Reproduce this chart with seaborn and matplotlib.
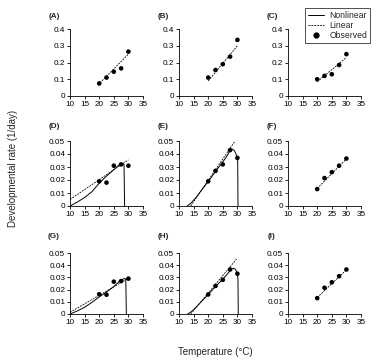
import matplotlib
matplotlib.use("Agg")
import matplotlib.pyplot as plt
import seaborn as sns
from matplotlib.lines import Line2D

# observed temperatures and rates
temps = [20, 22.5, 25, 27.5, 30]

obs_a = [0.075, 0.11, 0.145, 0.165, 0.265]
obs_b = [0.11, 0.155, 0.19, 0.235, 0.335]
obs_c = [0.10, 0.12, 0.13, 0.185, 0.25]
obs_d = [0.019, 0.018, 0.031, 0.032, 0.031]
obs_e = [0.019, 0.027, 0.032, 0.043, 0.037]
obs_f = [0.013, 0.0215, 0.026, 0.031, 0.0365]
obs_g = [0.0162, 0.0158, 0.0265, 0.027, 0.029]
obs_h = [0.016, 0.023, 0.028, 0.0365, 0.033]
obs_i = [0.013, 0.0215, 0.026, 0.031, 0.0365]

# linear model end points
lin_a = ([19.6, 30], [0.066, 0.25])
lin_b = ([20, 30], [0.09, 0.30])
lin_c = ([20, 30], [0.085, 0.23])
lin_d = ([10, 30], [0.005, 0.0355])
lin_e = ([14, 29.5], [0.0, 0.051])
lin_f = ([20, 30], [0.0135, 0.0362])
lin_g = ([10, 30], [0.0014, 0.0292])
lin_h = ([14, 29.7], [0.0, 0.045])
lin_i = ([20, 30], [0.0135, 0.0362])

# nonlinear model curves
nl_d_t = [10, 12.5, 15, 17.5, 20, 22.5, 25, 27, 28, 28.5, 28.7]
nl_d_r = [0, 0.003, 0.0065, 0.011, 0.0175, 0.023, 0.028, 0.032, 0.0328, 0.032, 0]
nl_e_t = [12.8, 14, 15, 16, 18, 20, 22, 24, 26, 27.5, 28.3, 29, 29.7, 30.1, 30.2]
nl_e_r = [0, 0.002, 0.0045, 0.007, 0.013, 0.0188, 0.025, 0.031, 0.037, 0.0425,
          0.0437, 0.0425, 0.039, 0.035, 0]
nl_g_t = [10, 12.5, 15, 17.5, 20, 22.5, 25, 27, 28.5, 29.1, 29.3]
nl_g_r = [0, 0.0025, 0.0055, 0.0095, 0.014, 0.018, 0.0225, 0.027, 0.029, 0.0288, 0]
nl_h_t = [13, 14, 15, 16, 18, 20, 22.5, 25, 27, 28, 28.7, 29.4, 30, 30.2, 30.3]
nl_h_r = [0, 0.0015, 0.0035, 0.006, 0.011, 0.016, 0.0225, 0.0285, 0.034, 0.0368,
          0.0375, 0.0365, 0.033, 0.028, 0]

panel_names = ["(A)", "(B)", "(C)", "(D)", "(E)", "(F)", "(G)", "(H)", "(I)"]
observed = [obs_a, obs_b, obs_c, obs_d, obs_e, obs_f, obs_g, obs_h, obs_i]
linear = [lin_a, lin_b, lin_c, lin_d, lin_e, lin_f, lin_g, lin_h, lin_i]
nonlinear = [None, None, None, (nl_d_t, nl_d_r), (nl_e_t, nl_e_r), None,
             (nl_g_t, nl_g_r), (nl_h_t, nl_h_r), None]

x_ticks = [10, 15, 20, 25, 30, 35]
y_ticks_top = [0, 0.1, 0.2, 0.3, 0.4]
y_labels_top = ["0", "0.1", "0.2", "0.3", "0.4"]
y_ticks_low = [0, 0.01, 0.02, 0.03, 0.04, 0.05]
y_labels_low = ["0", "0.01", "0.02", "0.03", "0.04", "0.05"]

sns.set_style("ticks")
plt.rcParams["font.family"] = ["Liberation Sans", "DejaVu Sans"]

W, H = 380, 361
fig = plt.figure(figsize=(W / 100, H / 100), dpi=100)

# layout in pixels
col_left = [70, 179, 288]
ax_w = 73
row_top = [29, 141, 253]
row_bottom = [96, 206, 314]
label_y = [17, 126, 237]
dash = (0, (2.2, 1.3))

for i in range(9):
    r, c = divmod(i, 3)
    ax = fig.add_axes([col_left[c] / W, 1 - row_bottom[r] / H,
                       ax_w / W, (row_bottom[r] - row_top[r]) / H])
    if nonlinear[i] is not None:
        sns.lineplot(x=nonlinear[i][0], y=nonlinear[i][1], ax=ax, color="black",
                     linewidth=0.7, sort=False, estimator=None)
    sns.lineplot(x=linear[i][0], y=linear[i][1], ax=ax, color="black",
                 linewidth=0.6, linestyle=dash, sort=False, estimator=None)
    sns.scatterplot(x=temps, y=observed[i], ax=ax, color="black", s=11,
                    edgecolor="none", zorder=3, clip_on=False)
    ax.set_xlim(10, 35)
    ax.set_xticks(x_ticks)
    ax.set_xticklabels([str(t) for t in x_ticks])
    if r == 0:
        ax.set_ylim(0, 0.4)
        ax.set_yticks(y_ticks_top)
        ax.set_yticklabels(y_labels_top)
    else:
        ax.set_ylim(0, 0.05)
        ax.set_yticks(y_ticks_low)
        ax.set_yticklabels(y_labels_low)
    ax.set_xlabel("")
    ax.set_ylabel("")
    ax.tick_params(labelsize=5.9, length=2, width=0.6, pad=1.5, colors="black")
    for s in ["left", "bottom"]:
        ax.spines[s].set_linewidth(0.6)
        ax.spines[s].set_color("black")
    sns.despine(ax=ax)
    fig.text((col_left[c] - 16) / W, 1 - label_y[r] / H, panel_names[i],
             fontsize=5.9, fontweight="bold", ha="center", va="center")

fig.text(13 / W, 1 - 168 / H, "Developmental rate (1/day)", rotation=90,
         fontsize=7, ha="center", va="center")
fig.text(215 / W, 1 - 352 / H, "Temperature (\u00b0C)", fontsize=7,
         ha="center", va="center")

handles = [Line2D([], [], color="black", linewidth=0.7),
           Line2D([], [], color="black", linewidth=0.6, linestyle=dash),
           Line2D([], [], color="black", marker="o", markersize=3.5, linestyle="none")]
leg = fig.legend(handles, ["Nonlinear", "Linear", "Observed"], loc="upper left",
                 bbox_to_anchor=(305 / W, 1 - 8 / H), fontsize=6.2, frameon=True,
                 fancybox=False, handlelength=1.9, handletextpad=0.6,
                 labelspacing=0.1, borderpad=0.35, borderaxespad=0)
leg.get_frame().set_edgecolor("black")
leg.get_frame().set_linewidth(0.6)

fig.savefig("out.png", dpi=100)
